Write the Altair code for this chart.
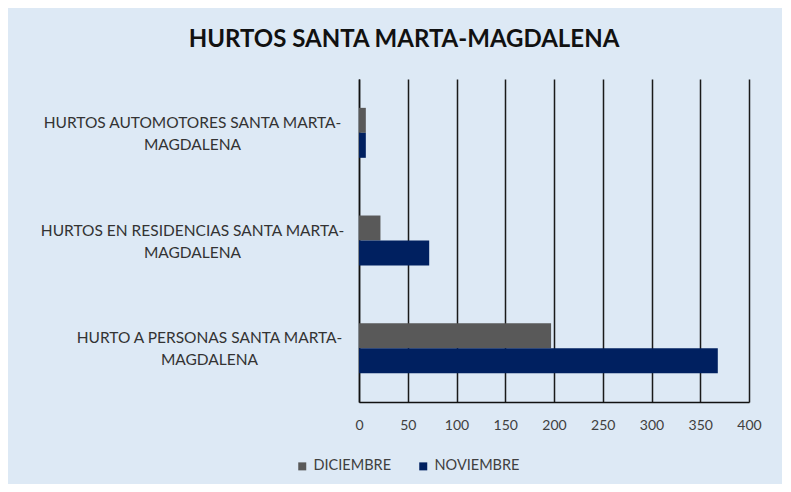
import altair as alt
import pandas as pd

categorias = [
    "HURTOS AUTOMOTORES SANTA MARTA-MAGDALENA",
    "HURTOS EN RESIDENCIAS SANTA MARTA-MAGDALENA",
    "HURTO A PERSONAS SANTA MARTA-MAGDALENA",
]
meses = ["DICIEMBRE", "NOVIEMBRE"]
diciembre = [7, 22, 197]
noviembre = [7, 72, 368]
colores = ["#595959", "#002060"]
ticks_x = [0, 50, 100, 150, 200, 250, 300, 350, 400]

rows = []
for c, d, n in zip(categorias, diciembre, noviembre):
    rows.append({"categoria": c, "mes": "DICIEMBRE", "valor": d})
    rows.append({"categoria": c, "mes": "NOVIEMBRE", "valor": n})
df = pd.DataFrame(rows)

label_split = (
    "[slice(datum.label, 0, indexof(datum.label, '-') + 1), "
    "slice(datum.label, indexof(datum.label, '-') + 1)]"
)

chart = (
    alt.Chart(df)
    .mark_bar()
    .encode(
        y=alt.Y(
            "categoria:N",
            sort=categorias,
            scale=alt.Scale(paddingInner=0.536, paddingOuter=0.268),
            axis=alt.Axis(
                title=None,
                labelExpr=label_split,
                labelAlign="center",
                labelBaseline="middle",
                labelLineHeight=22,
                labelLimit=400,
                labelOffset=-10,
                labelPadding={
                    "condition": {"test": "indexof(datum.value, 'PERSONAS') >= 0", "value": 150},
                    "value": 167,
                },
                ticks=False,
                domainColor="#111111",
                domainWidth=1.5,
                labelFont="Lato",
                labelFontSize=15.5,
                labelColor="#333333",
            ),
        ),
        x=alt.X(
            "valor:Q",
            scale=alt.Scale(domain=[0, 400], nice=False),
            axis=alt.Axis(
                title=None,
                values=ticks_x,
                grid=True,
                gridColor="#1a1a1a",
                gridWidth=1.5,
                ticks=False,
                domainColor="#111111",
                domainWidth=1.5,
                labelPadding=16,
                labelFlush=False,
                labelFont="Lato",
                labelFontSize=14,
                labelColor="#404040",
            ),
        ),
        yOffset=alt.YOffset("mes:N", sort=meses, scale=alt.Scale(paddingInner=0, paddingOuter=0)),
        color=alt.Color(
            "mes:N",
            sort=meses,
            scale=alt.Scale(domain=meses, range=colores),
            legend=alt.Legend(
                title=None,
                orient="none",
                direction="horizontal",
                legendX=-64,
                legendY=380,
                symbolType="square",
                symbolSize=64,
                symbolStrokeWidth=0,
                labelFont="Lato",
                labelFontSize=14.5,
                labelColor="#404040",
                labelOffset=4,
                columnPadding=24,
                padding=0,
            ),
        ),
    )
    .properties(
        width=390,
        height=323,
        autosize=alt.AutoSizeParams(type="none"),
        padding={"left": 351, "top": 71, "right": 33, "bottom": 82},
        background="#dde9f5",
        title=alt.Title(
            "HURTOS SANTA MARTA-MAGDALENA",
            font="Lato",
            fontSize=24,
            fontWeight="bold",
            color="#111111",
            anchor="middle",
            frame="group",
            dx=-150,
            offset=8,
            baseline="alphabetic",
        ),
    )
    .configure_view(stroke="transparent")
)

chart.save("out.html", embed_options={"renderer": "svg", "actions": False})
